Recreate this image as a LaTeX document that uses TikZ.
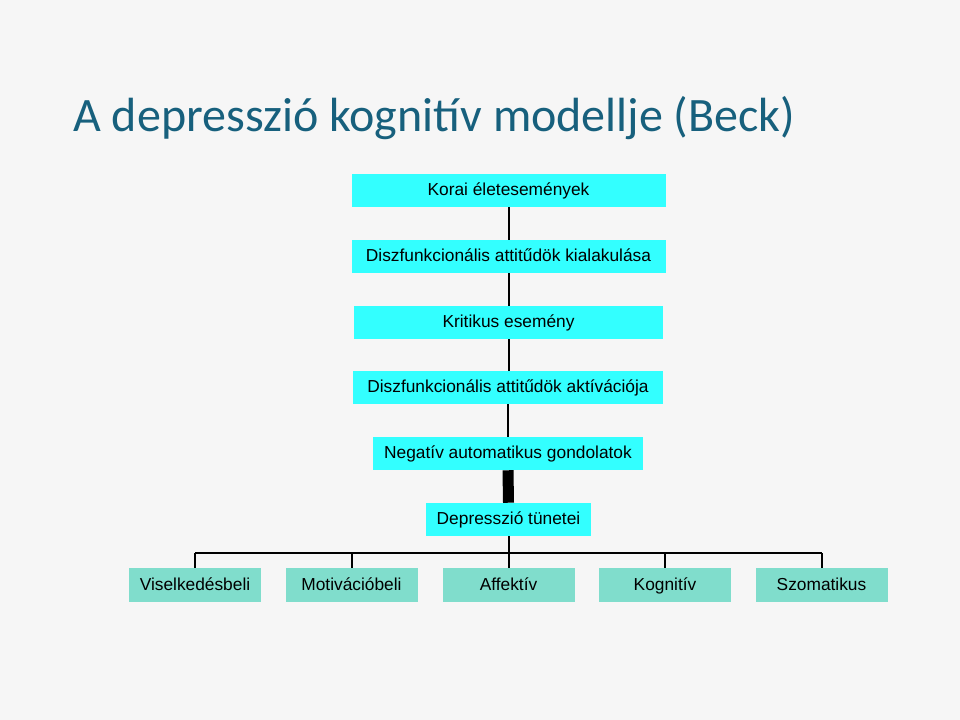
\documentclass[tikz,border=0pt]{standalone}
\usepackage{fontspec}
\setmainfont{Liberation Sans}
\newfontfamily\titlefont{Carlito}
\usepackage{tikz}
\usetikzlibrary{positioning}

\definecolor{titleblue}{RGB}{23,96,125}
\definecolor{boxcyan}{RGB}{51,255,255}
\definecolor{boxteal}{RGB}{128,221,204}
\definecolor{slidebg}{RGB}{246,246,246}
\def\pxu{0.75pt}

\begin{document}
\begin{tikzpicture}[x=0.75pt, y=-0.75pt,
  stepbox/.style={fill=boxcyan, minimum height=33*\pxu, inner sep=0pt, text height=1.9ex, text depth=0.35ex, font=\fontsize{13}{15}\selectfont},
  symbox/.style={fill=boxteal, minimum width=132*\pxu, minimum height=34*\pxu, inner sep=0pt, text height=1.9ex, text depth=0.35ex, font=\fontsize{13}{15}\selectfont},
  link/.style={line width=1.5pt}]
  % Background
  \fill[slidebg] (0,0) rectangle (960,720);
  \useasboundingbox (0,0) rectangle (960,720);

  % Title
  \node[anchor=base west, inner sep=0pt, text=titleblue, font=\titlefont\fontsize{36}{40}\selectfont] (title) at (73,132) {A depresszió kognitív modellje (Beck)};

  % Chain of boxes
  \node[stepbox, minimum width=314*\pxu] (korai) at (508.5,190.5) {Korai életesemények};
  \node[stepbox, minimum width=314*\pxu] (kialakulas) at (508.5,256.5) {Diszfunkcionális attitűdök kialakulása};
  \node[stepbox, minimum width=309*\pxu] (kritikus) at (508.5,322.5) {Kritikus esemény};
  \node[stepbox, minimum width=310*\pxu] (aktivacio) at (508,387.5) {Diszfunkcionális attitűdök aktívációja};
  \node[stepbox, minimum width=270*\pxu] (negativ) at (508,453.5) {Negatív automatikus gondolatok};
  \node[stepbox, minimum width=165*\pxu] (tunetek) at (508.5,519.5) {Depresszió tünetei};

  % Symptom groups
  \node[symbox] (viselkedes) at (195,585) {Viselkedésbeli};
  \node[symbox] (motivacio) at (351.5,585) {Motivációbeli};
  \node[symbox] (affektiv) at (508.5,585) {Affektív};
  \node[symbox] (kognitiv) at (665,585) {Kognitív};
  \node[symbox] (szomatikus) at (821.5,585) {Szomatikus};

  % Connectors
  \draw[link] (korai) -- (kialakulas);
  \draw[link] (kialakulas) -- (kritikus);
  \draw[link] (kritikus.south) -- (kritikus.south |- aktivacio.north);
  \draw[link] (aktivacio) -- (negativ);
  \draw[line width=8.25pt] (negativ.south) -- (tunetek.north);

  \coordinate (bus) at (508.5,553);
  \draw[link] (tunetek) -- (bus);
  \draw[link] (viselkedes |- bus) -- (szomatikus |- bus);
  \foreach \n in {viselkedes, motivacio, affektiv, kognitiv, szomatikus}
    \draw[link] (\n |- bus) -- (\n);
\end{tikzpicture}
\end{document}
